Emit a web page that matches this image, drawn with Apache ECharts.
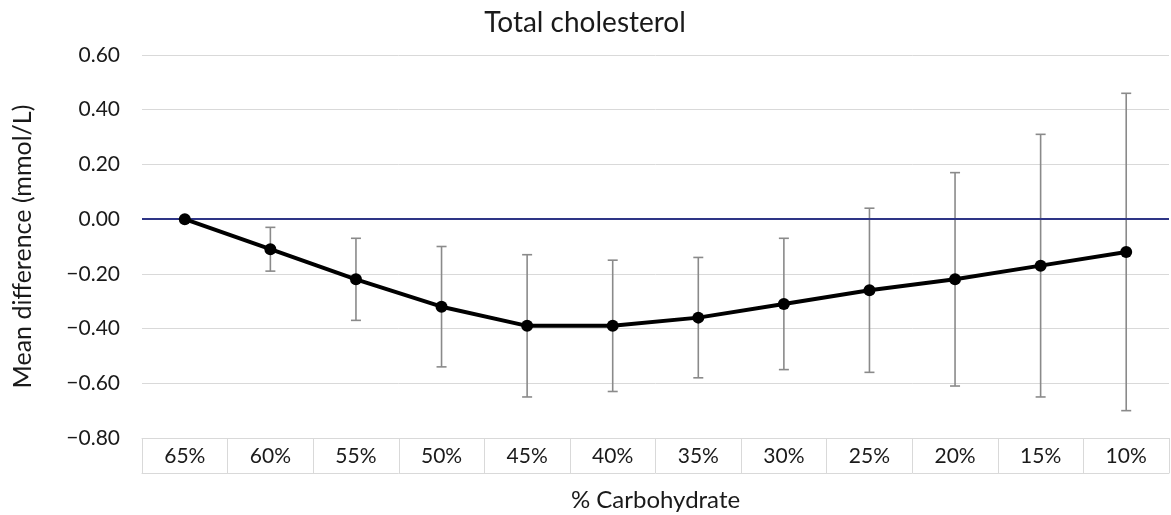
<!DOCTYPE html>
<html><head><meta charset="utf-8">
<script src="https://cdn.jsdelivr.net/npm/echarts@6/dist/echarts.min.js"></script>
<style>html,body{margin:0;padding:0;background:#fff}#c{width:1171px;height:515px}</style>
</head><body><div id="c"></div>
<script>
const categories = ['65%','60%','55%','50%','45%','40%','35%','30%','25%','20%','15%','10%'];
const meanDiff = [0.00,-0.11,-0.22,-0.32,-0.39,-0.39,-0.36,-0.31,-0.26,-0.22,-0.17,-0.12];
const upperCI  = [0.00,-0.03,-0.07,-0.10,-0.13,-0.15,-0.14,-0.07,0.04,0.17,0.31,0.46];
const lowerCI  = [0.00,-0.19,-0.37,-0.54,-0.65,-0.63,-0.58,-0.55,-0.56,-0.61,-0.65,-0.70];
const yTicks = {min:-0.8, max:0.6, interval:0.2};

const FONT = 'Lato';
const errData = categories.map((c,i)=>[i, lowerCI[i], upperCI[i]]).filter((d,i)=>i>0);
const chart = echarts.init(document.getElementById('c'));
chart.setOption({
  animation:false,
  textStyle:{fontFamily:FONT},
  title:{text:'Total cholesterol', left:580, textAlign:'center', top:4,
    textStyle:{fontFamily:FONT, fontSize:28, fontWeight:'normal', color:'#1a1a1a'}},
  grid:{left:142, right:2, top:55, bottom:77, containLabel:false, outerBoundsMode:'none'},
  xAxis:[{
    type:'category', data:categories, boundaryGap:true,
    axisLine:{show:true, onZero:false, lineStyle:{color:'#d9d9d9', width:1}},
    axisTick:{show:true, inside:false, length:35, interval:0, alignWithLabel:false, lineStyle:{color:'#d9d9d9'}},
    axisLabel:{interval:0, margin:8, fontSize:21, color:'#1a1a1a', fontFamily:FONT},
    name:'% Carbohydrate', nameLocation:'middle', nameGap:50,
    nameTextStyle:{fontSize:24, color:'#1a1a1a', fontFamily:FONT}
  },{
    type:'category', data:categories, position:'bottom', offset:35,
    axisLine:{show:true, onZero:false, lineStyle:{color:'#d9d9d9', width:1}},
    axisTick:{show:false}, axisLabel:{show:false}
  }],
  yAxis:{
    type:'value', min:yTicks.min, max:yTicks.max, interval:yTicks.interval,
    axisLine:{show:false}, axisTick:{show:false},
    splitLine:{lineStyle:{color:'#d9d9d9', width:1}},
    axisLabel:{fontSize:21, color:'#1a1a1a', margin:22, fontFamily:FONT,
      formatter:v=>{const s=Math.abs(v).toFixed(2); return (v< -1e-9?'\u2212':'')+s;}},
    name:'Mean difference (mmol/L)', nameLocation:'middle', nameGap:107, nameRotate:90,
    nameTextStyle:{fontSize:25, color:'#1a1a1a', fontFamily:FONT}
  },
  series:[{
    type:'custom', xAxisIndex:0, z:3,
    renderItem:(params, api)=>{
      const x = api.value(0);
      const lo = api.coord([x, api.value(1)]);
      const hi = api.coord([x, api.value(2)]);
      const hw = 5;
      const st = {stroke:'#8a8a8a', lineWidth:1.6};
      return {type:'group', children:[
        {type:'line', shape:{x1:lo[0], y1:lo[1], x2:hi[0], y2:hi[1]}, style:st},
        {type:'line', shape:{x1:lo[0]-hw, y1:lo[1], x2:lo[0]+hw, y2:lo[1]}, style:st},
        {type:'line', shape:{x1:hi[0]-hw, y1:hi[1], x2:hi[0]+hw, y2:hi[1]}, style:st}
      ]};
    },
    encode:{x:0, y:[1,2]},
    data:errData
  },{
    type:'line', data:meanDiff, xAxisIndex:0, z:5,
    symbol:'circle', symbolSize:12,
    lineStyle:{color:'#000', width:4},
    itemStyle:{color:'#000'},
    markLine:{silent:true, symbol:'none', label:{show:false},
      lineStyle:{color:'#2e3586', width:2, type:'solid'},
      data:[{yAxis:0}]}
  }]
});
</script></body></html>
